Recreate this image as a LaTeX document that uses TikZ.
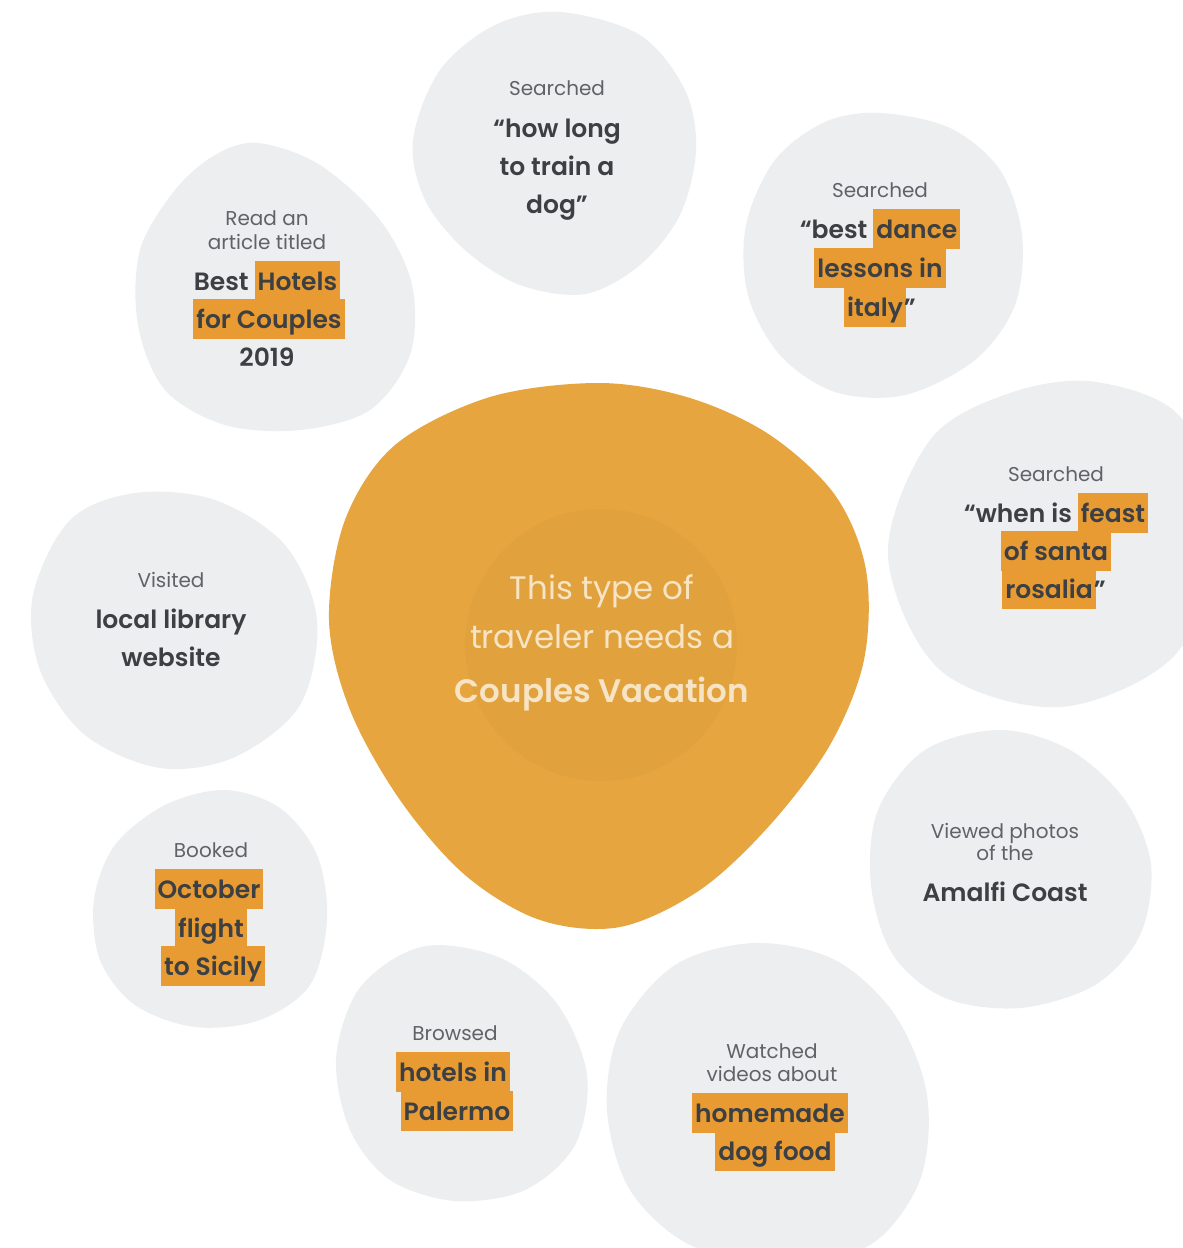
\documentclass[tikz,border=0pt]{standalone}
\usepackage{fontspec}
\setmainfont{Poppins}[BoldFont={* SemiBold}]
\definecolor{blobgray}{HTML}{ECEEEF}
\definecolor{orangeblob}{HTML}{E6A53F}
\definecolor{innerc}{HTML}{E1A13C}
\definecolor{hl}{HTML}{E99B33}
\definecolor{lbl}{HTML}{5F6368}
\definecolor{darktxt}{HTML}{3C4043}
\definecolor{cream}{HTML}{F7E4C4}
\newcommand\hlw[1]{{\setlength\fboxsep{0pt}\colorbox{hl}{\rule[-11pt]{0pt}{40pt}\hspace{3pt}#1\hspace{3pt}}}}
\tikzset{
  blob/.style={fill=blobgray, draw=none},
  lbltext/.style={anchor=base, inner sep=0pt, text=lbl, font=\fontsize{20}{24}\selectfont},
  boldtext/.style={anchor=base, inner sep=0pt, text=darktxt, font=\fontsize{25}{30}\selectfont\bfseries},
  centertext/.style={anchor=base, inner sep=0pt, text=cream, font=\fontsize{32.5}{38}\selectfont},
  centerbold/.style={centertext, font=\fontsize{32.5}{38}\selectfont\bfseries}
}
\begin{document}
\begin{tikzpicture}[x=1pt,y=-1pt]
\useasboundingbox (0,0) rectangle (1183,1248);
\clip (0,0) rectangle (1183,1248);
\fill[white] (0,0) rectangle (1183,1248);

% gray blobs
\fill[blob] plot[smooth cycle, tension=0.55] coordinates {(560,12) (640,35) (685,90) (696,150) (680,215) (640,265) (585,294) (520,285) (465,250) (425,200) (413,140) (440,70) (495,25)};
\fill[blob] plot[smooth cycle, tension=0.55] coordinates {(258,143) (320,165) (380,220) (412,285) (410,355) (370,410) (300,430) (225,425) (165,390) (138,325) (140,250) (175,190) (215,155)};
\fill[blob] plot[smooth cycle, tension=0.55] coordinates {(880,113) (950,128) (1000,170) (1022,235) (1015,305) (975,360) (905,395) (835,392) (780,355) (748,295) (746,225) (775,160) (825,122)};
\fill[blob] plot[smooth cycle, tension=0.55] coordinates {(1096,382) (1183,420) (1215,540) (1175,655) (1060,707) (940,670) (888,555) (930,440) (1010,393)};
\fill[blob] plot[smooth cycle, tension=0.55] coordinates {(135,493) (215,500) (285,545) (317,620) (300,705) (235,757) (160,768) (85,735) (40,670) (33,595) (70,520)};
\fill[blob] plot[smooth cycle, tension=0.55] coordinates {(225,790) (280,808) (317,855) (327,920) (310,985) (260,1020) (195,1027) (135,1005) (100,960) (94,900) (115,845) (165,805)};
\fill[blob] plot[smooth cycle, tension=0.55] coordinates {(440,945) (505,960) (558,1005) (587,1075) (575,1145) (525,1190) (455,1201) (390,1180) (350,1130) (336,1060) (355,995) (395,958)};
\fill[blob] plot[smooth cycle, tension=0.55] coordinates {(755,943) (835,960) (895,1015) (927,1095) (920,1180) (870,1245) (780,1265) (690,1245) (630,1190) (607,1110) (620,1030) (675,965)};
\fill[blob] plot[smooth cycle, tension=0.55] coordinates {(1000,730) (1070,750) (1125,800) (1151,865) (1140,935) (1095,985) (1020,1008) (945,998) (893,955) (871,885) (878,810) (925,750)};

% center blob
\fill[orangeblob] plot[smooth cycle, tension=0.55] coordinates {(600,383) (690,398) (770,435) (835,495) (866,570) (864,660) (830,745) (770,825) (700,890) (620,927) (540,920) (465,875) (400,800) (350,710) (329,620) (345,520) (395,445) (490,397)};
\fill[innerc] (601,645) circle (136);

% center text
\node[centertext] (c1) at (602,599) {This type of};
\node[centertext] (c2) at (602,648) {traveler needs a};
\node[centerbold] (c3) at (602,702) {Couples Vacation};

% top blob
\node[lbltext] (t1) at (557,95) {Searched};
\node[boldtext] (t2) at (557,137) {“how long};
\node[boldtext] (t3) at (557,175) {to train a};
\node[boldtext] (t4) at (557,213) {dog”};

% read blob
\node[lbltext] (r1) at (267,225) {Read an};
\node[lbltext] (r2) at (267,249) {article titled};
\node[boldtext] (r3) at (267,290) {Best \hlw{Hotels}};
\node[boldtext] (r4) at (269,328) {\hlw{for Couples}};
\node[boldtext] (r5) at (267,366) {2019};

% dance blob
\node[lbltext] (d1) at (880,197) {Searched};
\node[boldtext] (d2) at (880,238) {“best \hlw{dance}};
\node[boldtext] (d3) at (880,277) {\hlw{lessons in}};
\node[boldtext] (d4) at (880,316) {\hlw{italy}\kern-2pt”};

% feast blob
\node[lbltext] (f1) at (1056,481) {Searched};
\node[boldtext] (f2) at (1056,522) {“when is \hlw{feast}};
\node[boldtext] (f3) at (1056,560) {\hlw{of santa}};
\node[boldtext] (f4) at (1054,598) {\hlw{rosalia}\kern-2pt”};

% visited blob
\node[lbltext] (v1) at (171,587) {Visited};
\node[boldtext] (v2) at (171,628) {local library};
\node[boldtext] (v3) at (171,666) {website};

% booked blob
\node[lbltext] (b1) at (211,857) {Booked};
\node[boldtext] (b2) at (209,898) {\hlw{October}};
\node[boldtext] (b3) at (211,937) {\hlw{flight}};
\node[boldtext] (b4) at (213,975) {\hlw{to Sicily}};

% browsed blob
\node[lbltext] (w1) at (455,1040) {Browsed};
\node[boldtext] (w2) at (453,1081) {\hlw{hotels in}};
\node[boldtext] (w3) at (457,1120) {\hlw{Palermo}};

% watched blob
\node[lbltext] (h1) at (772,1058) {Watched};
\node[lbltext] (h2) at (772,1081) {videos about};
\node[boldtext] (h3) at (770,1122) {\hlw{homemade}};
\node[boldtext] (h4) at (775,1160) {\hlw{dog food}};

% viewed blob
\node[lbltext] (p1) at (1005,838) {Viewed photos};
\node[lbltext] (p2) at (1005,860) {of the};
\node[boldtext] (p3) at (1005,901) {Amalfi Coast};
\end{tikzpicture}
\end{document}
